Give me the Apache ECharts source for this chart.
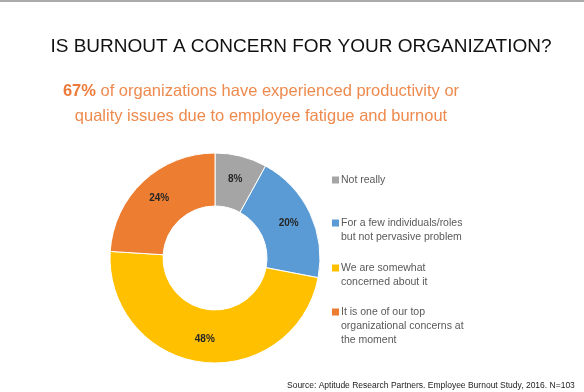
<!DOCTYPE html>
<html><head><meta charset="utf-8">
<script src="https://cdn.jsdelivr.net/npm/echarts@6/dist/echarts.min.js"></script>
<style>html,body{margin:0;padding:0;background:#fff}#c{width:584px;height:392px}</style>
</head><body><div id="c"></div>
<script>
const categories = ["Not really", "For a few individuals/roles\nbut not pervasive problem", "We are somewhat\nconcerned about it", "It is one of our top\norganizational concerns at\nthe moment"];
const values = [8, 20, 48, 24];
const colors = ["#A5A5A5", "#5B9BD5", "#FFC000", "#ED7D31"];
const titleText = "IS BURNOUT A CONCERN FOR YOUR ORGANIZATION?";
const subtitleBold = "67%";
const subtitleRest1 = " of organizations have experienced productivity or";
const subtitleLine2 = "quality issues due to employee fatigue and burnout";
const sourceText = "Source: Aptitude Research Partners. Employee Burnout Study, 2016. N=103";
const legendTops = [173, 216, 261, 305];

const chart = echarts.init(document.getElementById('c'));
const font = "'Liberation Sans', Arial, sans-serif";
const LH = 14;
chart.setOption({
  animation: false,
  color: colors,
  title: [{
    text: titleText, left: 296, top: 32, textAlign: 'center',
    textStyle: {fontFamily: font, fontWeight: 'normal', fontSize: 19, color: '#111'}
  }, {
    text: '{b|' + subtitleBold + '}{n|' + subtitleRest1 + '}\n{n|' + subtitleLine2 + '}',
    left: 256, top: 74, textAlign: 'center',
    textStyle: {rich: {
      b: {fontFamily: font, fontWeight: 'bold', fontSize: 16.5, color: '#EE7A3A', lineHeight: 25},
      n: {fontFamily: font, fontWeight: 'normal', fontSize: 16.5, color: '#EE8A4E', lineHeight: 25}
    }}
  }, {
    text: sourceText, left: 282, top: 376,
    textStyle: {fontFamily: font, fontWeight: 'normal', fontSize: 8.5, color: '#222'}
  }],
  legend: categories.map((c, i) => {
    const n = c.split('\n').length;
    const h = n * LH;
    const y0 = (LH - 7) / 2;
    return {
      data: [c], orient: 'vertical', left: 332, top: legendTops[i], padding: 0,
      icon: 'path://M0,' + y0 + 'h7v7h-7z M0,0L7,0 M0,' + h + 'L7,' + h,
      symbolKeepAspect: true,
      itemWidth: 7, itemHeight: h, itemGap: 0, selectedMode: false,
      itemStyle: {borderWidth: 0},
      textStyle: {fontFamily: font, fontSize: 10.5, color: '#595959', lineHeight: LH,
        padding: [0, 0, 0, -3]}
    };
  }),
  graphic: [{type: 'rect', shape: {x: 0, y: 0, width: 584, height: 2}, style: {fill: '#ABABAB'}}],
  series: [{
    type: 'pie', center: [215, 258], radius: [52, 105], startAngle: 90, clockwise: true,
    label: {position: 'inside', formatter: '{c}%', fontFamily: font, fontWeight: 'bold', fontSize: 10, color: '#262626'},
    labelLine: {show: false},
    itemStyle: {borderColor: '#fff', borderWidth: 1},
    emphasis: {disabled: true},
    data: categories.map((c, i) => ({name: c, value: values[i]}))
  }]
});
</script></body></html>
